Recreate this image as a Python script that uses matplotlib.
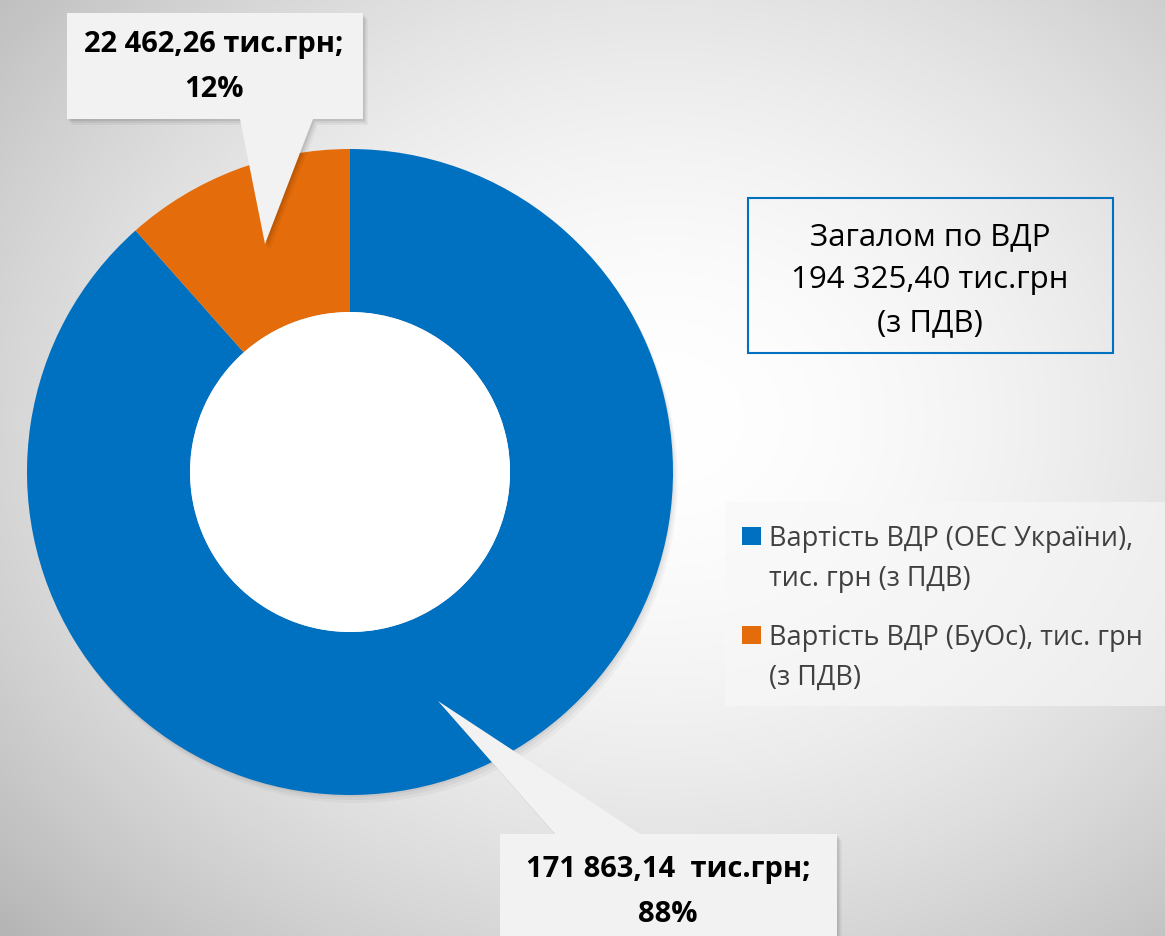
import matplotlib
matplotlib.use('Agg')
import matplotlib.pyplot as plt
import numpy as np
from matplotlib.patches import Polygon, Rectangle, Wedge

plt.rcParams['font.family'] = ['Open Sans', 'DejaVu Sans']

# ─── data ─────────────────────────────────────────────────────────────────────
labels = ['Вартість ВДР (ОЕС України),\nтис. грн (з ПДВ)',
          'Вартість ВДР (БуОс), тис. грн\n(з ПДВ)']
values = [171863.14, 22462.26]
colors = ['#0070c0', '#e46c0a']
callout_text = ['171 863,14  тис.грн;', '22 462,26 тис.грн;']
total_text = 'Загалом по ВДР\n194 325,40 тис.грн\n(з ПДВ)'

W, H = 1165, 937


def fy(y):
    return H - y


def callout(ax, pts, text, tx, ty, fs):
    pts = [(x, fy(y)) for x, y in pts]
    for k, a in [(6, 0.04), (4, 0.06), (2, 0.08)]:
        sh = [(x + k * 0.8, y - k) for x, y in pts]
        ax.add_patch(Polygon(sh, closed=True, facecolor='black', alpha=a,
                             edgecolor='none', zorder=4))
    ax.add_patch(Polygon(pts, closed=True, facecolor='#f2f2f2',
                         edgecolor='none', zorder=5))
    ax.text(tx, fy(ty), text, ha='center', va='center', fontsize=fs,
            fontweight='bold', color='black', zorder=6, linespacing=1.75)


fig = plt.figure(figsize=(W / 100, H / 100), dpi=100)
ax = fig.add_axes([0, 0, 1, 1])

# ─── background radial gradient ──────────────────────────────────────────────
gx, gy = np.meshgrid(np.arange(W), np.arange(H))
r = np.sqrt(((gx - 660) / 760.0) ** 2 + ((gy - 420) / 620.0) ** 2)
g = np.clip(1.0 - 0.21 * np.clip(r, 0, 1.3) ** 1.8, 0, 1)
ax.imshow(np.dstack([g, g, g]), extent=(0, W, 0, H), origin='upper',
          zorder=0, aspect='auto')

# ─── donut ───────────────────────────────────────────────────────────────────
cx, cy, R, RW = 350, 473, 323, 163
for k, a in [(8, 0.03), (5, 0.04), (2, 0.05)]:
    ax.add_patch(Wedge((cx + k * 0.6, fy(cy) - k), R, 0, 360, width=RW,
                       color='black', alpha=a, zorder=1, lw=0))
wedges, _ = ax.pie(values, colors=colors, startangle=90, counterclock=False,
                   radius=R, center=(cx, fy(cy)),
                   wedgeprops=dict(width=RW, edgecolor='none'))
for w in wedges:
    w.set_zorder(2)
ax.add_patch(plt.Circle((cx, fy(cy)), R - RW, color='white', zorder=2, lw=0))

# ─── callouts ────────────────────────────────────────────────────────────────
pct = [round(100 * v / sum(values)) for v in values]
callout(ax, [(67, 14), (363, 14), (363, 120), (313, 120), (265, 245),
             (240, 120), (67, 120)],
        f'{callout_text[1]}\n{pct[1]}%', 214, 67, 21)
callout(ax, [(500, 835), (555, 835), (438, 702), (640, 835), (837, 835),
             (837, 945), (500, 945)],
        f'{callout_text[0]}\n{pct[0]}%', 668, 892, 21)

# ─── total box ───────────────────────────────────────────────────────────────
ax.add_patch(Rectangle((748, fy(354)), 365, 155, facecolor='none',
                       edgecolor='#0070c0', lw=1.5, zorder=5))
ax.text(930, fy(280), total_text, ha='center', va='center', fontsize=22.5,
        color='black', linespacing=1.55, zorder=6)

# ─── legend (drawn by hand so the square sits on the first line) ────────────
ax.add_patch(Rectangle((725, fy(707)), 440, 204, facecolor='#f8f8f8',
                       edgecolor='none', alpha=0.6, zorder=3))
for i, (lab, col) in enumerate(zip(labels, colors)):
    y0 = 537 + i * 99
    ax.add_patch(Rectangle((742, fy(y0 + 9)), 19, 18, facecolor=col,
                           edgecolor='none', zorder=5))
    ax.text(769, fy(y0 - 12), lab, ha='left', va='top', fontsize=19.5,
            color='#404040', linespacing=1.55, zorder=6)

ax.set_xlim(0, W)
ax.set_ylim(0, H)
ax.axis('off')

fig.savefig('out.png', dpi=100)
